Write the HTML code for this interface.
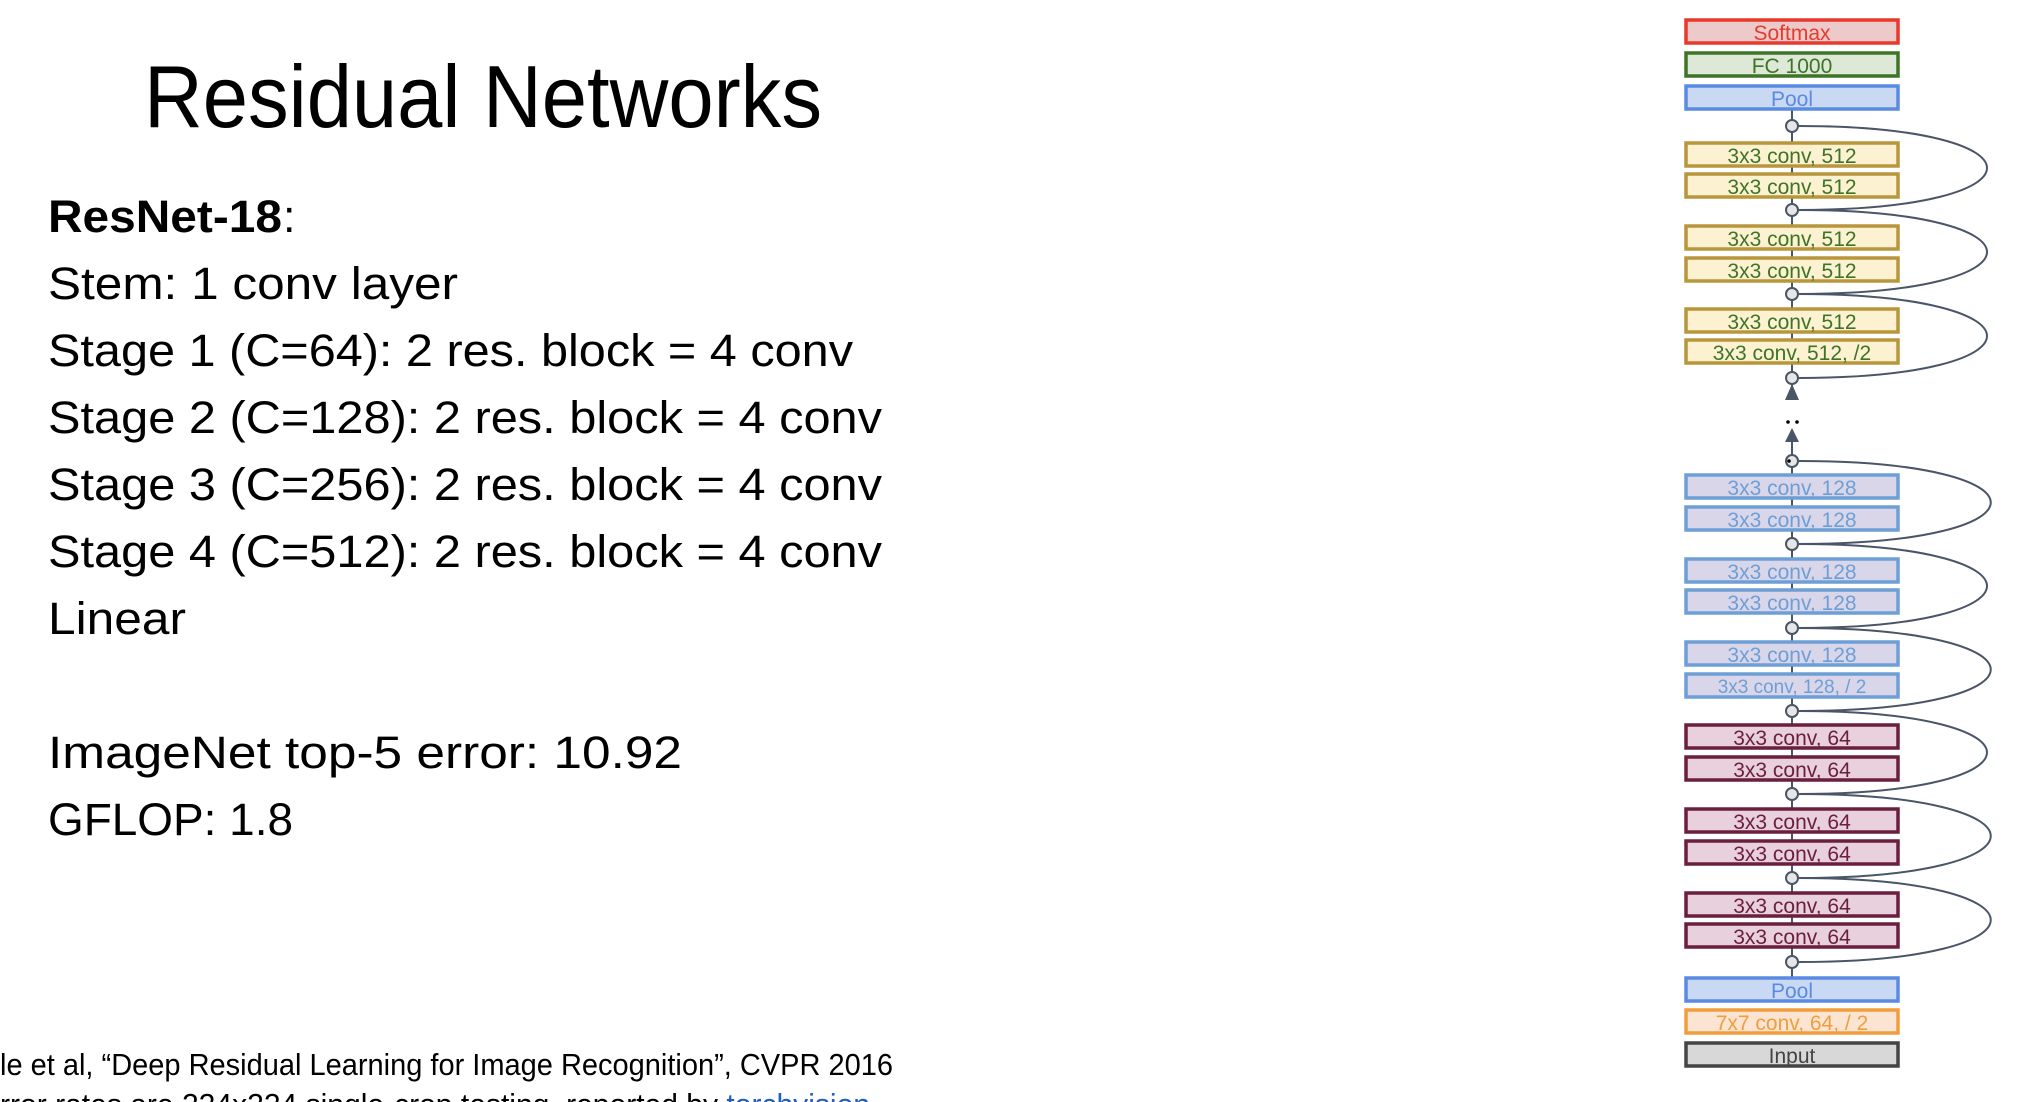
<!DOCTYPE html>
<html><head><meta charset="utf-8"><style>
html,body{margin:0;padding:0;background:#fff;}
svg{display:block;}
text{font-family:"Liberation Sans",sans-serif;}
</style></head><body>
<svg width="2040" height="1102" viewBox="0 0 2040 1102" xmlns="http://www.w3.org/2000/svg">
<rect width="2040" height="1102" fill="#fff"/>
<text x="144" y="127" font-size="88" textLength="678" lengthAdjust="spacingAndGlyphs" fill="#000">Residual Networks</text>
<g font-size="45" fill="#000">
<text x="48" y="232" font-weight="bold" textLength="234" lengthAdjust="spacingAndGlyphs">ResNet-18</text><text x="283" y="232">:</text>
<text x="48" y="299" textLength="410" lengthAdjust="spacingAndGlyphs">Stem: 1 conv layer</text>
<text x="48" y="366" textLength="805" lengthAdjust="spacingAndGlyphs">Stage 1 (C=64): 2 res. block = 4 conv</text>
<text x="48" y="433" textLength="834" lengthAdjust="spacingAndGlyphs">Stage 2 (C=128): 2 res. block = 4 conv</text>
<text x="48" y="500" textLength="834" lengthAdjust="spacingAndGlyphs">Stage 3 (C=256): 2 res. block = 4 conv</text>
<text x="48" y="567" textLength="834" lengthAdjust="spacingAndGlyphs">Stage 4 (C=512): 2 res. block = 4 conv</text>
<text x="48" y="634" textLength="138" lengthAdjust="spacingAndGlyphs">Linear</text>
<text x="48" y="768" textLength="634" lengthAdjust="spacingAndGlyphs">ImageNet top-5 error: 10.92</text>
<text x="48" y="835" textLength="245" lengthAdjust="spacingAndGlyphs">GFLOP: 1.8</text>
</g>
<text x="0" y="1075" font-size="31" textLength="893" lengthAdjust="spacingAndGlyphs" fill="#000">le et al, “Deep Residual Learning for Image Recognition”, CVPR 2016</text>
<text x="0" y="1115" font-size="31" textLength="870" lengthAdjust="spacingAndGlyphs" fill="#000">rror rates are 224x224 single-crop testing, reported by <tspan fill="#1f5fbf">torchvision</tspan></text>

<g stroke="#4a5568" stroke-width="2" fill="none">
<line x1="1792" y1="110" x2="1792" y2="400"/>
<line x1="1792" y1="440" x2="1792" y2="977"/>
<path d="M1798 126 C2050 126 2050 210 1798 210"/>
<path d="M1798 210 C2050 210 2050 294 1798 294"/>
<path d="M1798 294 C2050 294 2050 378 1798 378"/>
<path d="M1798 461 C2055 461 2055 544 1798 544"/>
<path d="M1798 544 C2050 544 2050 628 1798 628"/>
<path d="M1798 628 C2055 628 2055 711 1798 711"/>
<path d="M1798 711 C2050 711 2050 794 1798 794"/>
<path d="M1798 794 C2055 794 2055 878 1798 878"/>
<path d="M1798 878 C2055 878 2055 962 1798 962"/>
</g>
<polygon points="1792,384 1785,400 1799,400" fill="#4a5568"/>
<polygon points="1792,428 1785,442 1799,442" fill="#4a5568"/>
<circle cx="1788" cy="422" r="1.8" fill="#000"/><circle cx="1797" cy="422" r="1.8" fill="#000"/>
<g fill="#e6e6e6" stroke="#4a5568" stroke-width="2">
<circle cx="1792" cy="126" r="6"/><circle cx="1792" cy="210" r="6"/><circle cx="1792" cy="294" r="6"/><circle cx="1792" cy="378" r="6"/>
<circle cx="1792" cy="461" r="6"/><circle cx="1792" cy="544" r="6"/><circle cx="1792" cy="628" r="6"/><circle cx="1792" cy="711" r="6"/>
<circle cx="1792" cy="794" r="6"/><circle cx="1792" cy="878" r="6"/><circle cx="1792" cy="962" r="6"/>
</g>
<circle cx="1789" cy="461" r="1.8" fill="#000"/>

<g stroke-width="3.5" font-size="21" text-anchor="middle">
<rect x="1686" y="20" width="212" height="23" fill="#eccaca" stroke="#e8392c"/>
<text x="1792" y="40" fill="#e8392c">Softmax</text>
<rect x="1686" y="53" width="212" height="23" fill="#dde8d6" stroke="#3e7428"/>
<text x="1792" y="73" fill="#3e7428">FC 1000</text>
<rect x="1686" y="86" width="212" height="23" fill="#c9d8f3" stroke="#5b8ae3"/>
<text x="1792" y="106" fill="#5b8ae3">Pool</text>

<g fill="#fcf1d0" stroke="#b8963c">
<rect x="1686" y="143" width="212" height="23"/><rect x="1686" y="174" width="212" height="23"/>
<rect x="1686" y="226" width="212" height="23"/><rect x="1686" y="258" width="212" height="23"/>
<rect x="1686" y="309" width="212" height="23"/><rect x="1686" y="340" width="212" height="23"/>
</g>
<g fill="#3e7428">
<text x="1792" y="163">3x3 conv, 512</text><text x="1792" y="194">3x3 conv, 512</text>
<text x="1792" y="246">3x3 conv, 512</text><text x="1792" y="278">3x3 conv, 512</text>
<text x="1792" y="329">3x3 conv, 512</text><text x="1792" y="360">3x3 conv, 512, /2</text>
</g>

<g fill="#d9d6ea" stroke="#6d9fd6">
<rect x="1686" y="475" width="212" height="23"/><rect x="1686" y="507" width="212" height="23"/>
<rect x="1686" y="559" width="212" height="23"/><rect x="1686" y="590" width="212" height="23"/>
<rect x="1686" y="642" width="212" height="23"/><rect x="1686" y="674" width="212" height="23"/>
</g>
<g fill="#6d9fd6">
<text x="1792" y="495">3x3 conv, 128</text><text x="1792" y="527">3x3 conv, 128</text>
<text x="1792" y="579">3x3 conv, 128</text><text x="1792" y="610">3x3 conv, 128</text>
<text x="1792" y="662">3x3 conv, 128</text><text x="1792" y="693" font-size="19">3x3 conv, 128, / 2</text>
</g>

<g fill="#e8d0dc" stroke="#6b1f3e">
<rect x="1686" y="725" width="212" height="23"/><rect x="1686" y="757" width="212" height="23"/>
<rect x="1686" y="809" width="212" height="23"/><rect x="1686" y="841" width="212" height="23"/>
<rect x="1686" y="893" width="212" height="23"/><rect x="1686" y="924" width="212" height="23"/>
</g>
<g fill="#6b1f3e">
<text x="1792" y="745">3x3 conv, 64</text><text x="1792" y="777">3x3 conv, 64</text>
<text x="1792" y="829">3x3 conv, 64</text><text x="1792" y="861">3x3 conv, 64</text>
<text x="1792" y="913">3x3 conv, 64</text><text x="1792" y="944">3x3 conv, 64</text>
</g>

<rect x="1686" y="978" width="212" height="23" fill="#c9d8f3" stroke="#5b8ae3"/>
<text x="1792" y="998" fill="#5b8ae3">Pool</text>
<rect x="1686" y="1010" width="212" height="23" fill="#fbe5d2" stroke="#f19d3c"/>
<text x="1792" y="1030" fill="#f19d3c">7x7 conv, 64, / 2</text>
<rect x="1686" y="1043" width="212" height="23" fill="#d8d8d8" stroke="#444"/>
<text x="1792" y="1063" fill="#444">Input</text>
</g>
</svg>
</body></html>
